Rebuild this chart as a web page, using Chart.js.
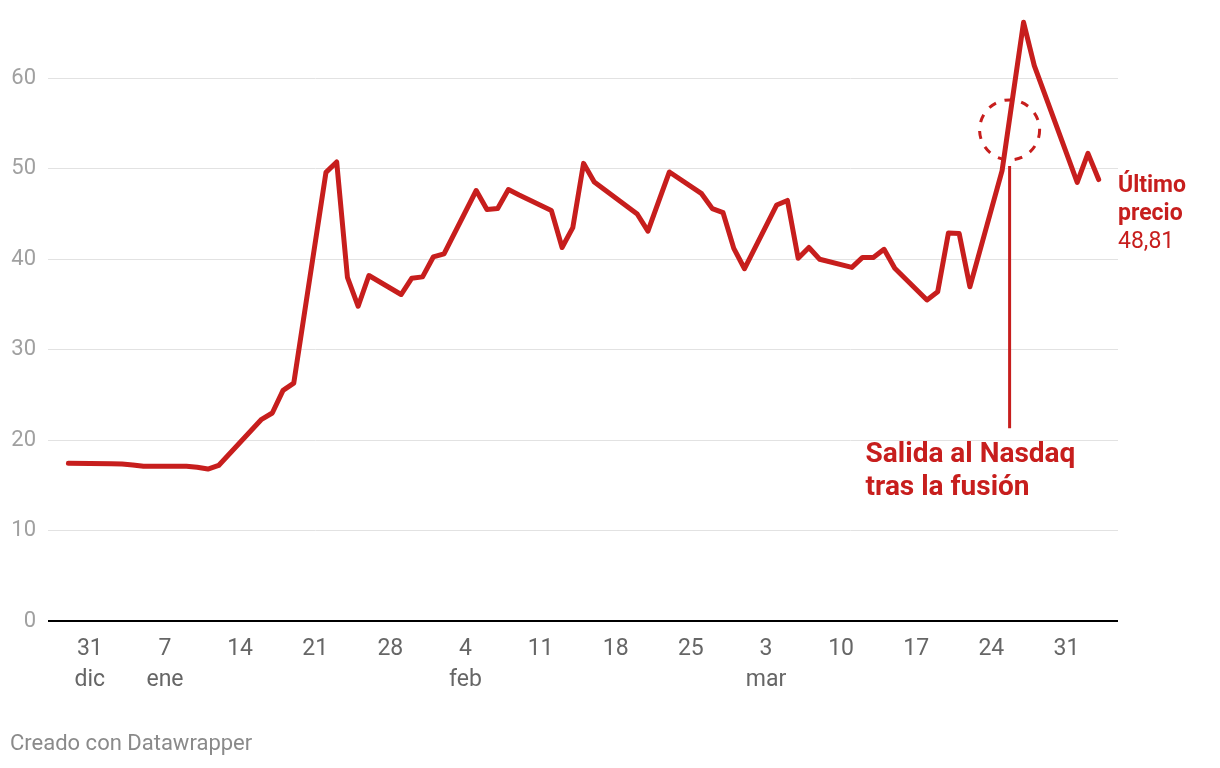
<!DOCTYPE html>
<html>
<head>
<meta charset="utf-8">
<script src="https://cdn.jsdelivr.net/npm/chart.js@4"></script>
<style>
  html, body { margin: 0; padding: 0; background: #fff; }
  #wrap { position: relative; width: 1220px; height: 768px; }
  #credit {
    position: absolute; left: 10px; top: 730px;
    font: 22px Roboto, sans-serif; color: #8a8a8a;
  }
</style>
</head>
<body>
<div id="wrap">
  <canvas id="chart" width="1220" height="768"></canvas>
  <div id="credit">Creado con Datawrapper</div>
</div>
<script>
// Datos (cierre diario)
const dates = [
  '2023-12-29', '2024-01-02', '2024-01-03', '2024-01-04', '2024-01-05',
  '2024-01-08', '2024-01-09', '2024-01-10', '2024-01-11', '2024-01-12',
  '2024-01-16', '2024-01-17', '2024-01-18', '2024-01-19',
  '2024-01-22', '2024-01-23', '2024-01-24', '2024-01-25', '2024-01-26',
  '2024-01-29', '2024-01-30', '2024-01-31', '2024-02-01', '2024-02-02',
  '2024-02-05', '2024-02-06', '2024-02-07', '2024-02-08', '2024-02-09',
  '2024-02-12', '2024-02-13', '2024-02-14', '2024-02-15', '2024-02-16',
  '2024-02-20', '2024-02-21', '2024-02-22', '2024-02-23',
  '2024-02-26', '2024-02-27', '2024-02-28', '2024-02-29', '2024-03-01',
  '2024-03-04', '2024-03-05', '2024-03-06', '2024-03-07', '2024-03-08',
  '2024-03-11', '2024-03-12', '2024-03-13', '2024-03-14', '2024-03-15',
  '2024-03-18', '2024-03-19', '2024-03-20', '2024-03-21', '2024-03-22',
  '2024-03-25', '2024-03-26', '2024-03-27', '2024-03-28',
  '2024-04-01', '2024-04-02', '2024-04-03'
];
const prices = [
  17.43, 17.4, 17.35, 17.25, 17.1,
  17.1, 17.1, 17.0, 16.8, 17.2,
  22.3, 23.0, 25.5, 26.3,
  49.6, 50.75, 38.0, 34.8, 38.2,
  36.1, 37.9, 38.05, 40.25, 40.6,
  47.6, 45.5, 45.6, 47.7, 47.1,
  45.4, 41.3, 43.5, 50.6, 48.55,
  45.0, 43.1, 46.4, 49.65,
  47.25, 45.6, 45.15, 41.2, 38.95,
  46.0, 46.5, 40.1, 41.3, 40.0,
  39.1, 40.2, 40.2, 41.1, 39.0,
  35.5, 36.4, 42.9, 42.85, 36.95,
  49.8, 58.0, 66.2, 61.4,
  48.5, 51.7, 48.81
];

// Marcas del eje X (días desde el 31 dic) y sus etiquetas
const xTickDays = [0, 7, 14, 21, 28, 35, 42, 49, 56, 63, 70, 77, 84, 91];
const xTickLabels = [
  ['31', 'dic'], ['7', 'ene'], '14', '21', '28', ['4', 'feb'], '11',
  '18', '25', ['3', 'mar'], '10', '17', '24', '31'
];
const yTicks = [0, 10, 20, 30, 40, 50, 60];

const lastLabel = ['Último', 'precio', '48,81'];
const noteLines = ['Salida al Nasdaq', 'tras la fusión'];
const noteDay = 85.7;      // posición de la anotación (días)
const noteTop = 50.3;      // extremo superior de la línea vertical
const noteBottom = 21.3;   // extremo inferior de la línea vertical
const circleValue = 54.3;  // centro del círculo punteado

const RED = '#c71e1d';
const FONT = 'Roboto, sans-serif';

// Convertir fecha a días desde el 31 de diciembre de 2023
function toDay(str) {
  const [y, m, d] = str.split('-').map(Number);
  return (Date.UTC(y, m - 1, d) - Date.UTC(2023, 11, 31)) / 86400000;
}

const points = dates.map((d, i) => ({ x: toDay(d), y: prices[i] }));

// Anotaciones dibujadas sobre el lienzo
const annotations = {
  id: 'annotations',
  afterDatasetsDraw(chart) {
    const { ctx, scales: { x, y }, chartArea } = chart;
    ctx.save();

    // línea vertical
    const lx = x.getPixelForValue(noteDay);
    ctx.strokeStyle = RED;
    ctx.lineWidth = 3;
    ctx.beginPath();
    ctx.moveTo(lx, y.getPixelForValue(noteTop));
    ctx.lineTo(lx, y.getPixelForValue(noteBottom));
    ctx.stroke();

    // círculo punteado
    ctx.setLineDash([8, 9]);
    ctx.beginPath();
    ctx.arc(lx, y.getPixelForValue(circleValue), 30, 0, Math.PI * 2);
    ctx.stroke();
    ctx.setLineDash([]);

    // texto de la anotación
    ctx.fillStyle = RED;
    ctx.textBaseline = 'alphabetic';
    ctx.textAlign = 'left';
    ctx.font = 'bold 28px ' + FONT;
    const ty = y.getPixelForValue(noteBottom) + 34;
    noteLines.forEach((t, i) => ctx.fillText(t, lx - 144, ty + i * 33));

    // último precio
    const last = points[points.length - 1];
    const py = y.getPixelForValue(last.y) + 12;
    ctx.font = 'bold 23px ' + FONT;
    ctx.fillText(lastLabel[0], chartArea.right, py);
    ctx.fillText(lastLabel[1], chartArea.right, py + 28);
    ctx.font = '23px ' + FONT;
    ctx.fillText(lastLabel[2], chartArea.right, py + 56);

    ctx.restore();
  }
};

new Chart(document.getElementById('chart'), {
  type: 'line',
  data: {
    datasets: [{
      data: points,
      borderColor: RED,
      borderWidth: 5,
      borderJoinStyle: 'round',
      borderCapStyle: 'round',
      pointRadius: 0,
      tension: 0,
      fill: false,
      clip: 10
    }]
  },
  options: {
    responsive: false,
    animation: false,
    layout: { padding: { top: 6, right: 102, left: 0, bottom: 0 } },
    plugins: { legend: { display: false }, tooltip: { enabled: false } },
    scales: {
      x: {
        type: 'linear',
        min: -3.9,
        max: 95.8,
        afterBuildTicks: scale => { scale.ticks = xTickDays.map(v => ({ value: v })); },
        afterFit: scale => {
          scale.height = 147;
          scale.paddingLeft = 0;
          scale.paddingRight = 0;
        },
        grid: { display: false, drawTicks: false },
        border: { display: false },
        ticks: {
          padding: 13,
          color: '#666',
          font: { family: FONT, size: 23, lineHeight: 1.35 },
          maxRotation: 0,
          autoSkip: false,
          callback: (value, index) => xTickLabels[index]
        }
      },
      y: {
        min: 0,
        max: 68,
        afterBuildTicks: scale => { scale.ticks = yTicks.map(v => ({ value: v })); },
        afterFit: scale => {
          scale.width = 48;
          scale.paddingTop = 0;
          scale.paddingBottom = 0;
        },
        grid: {
          drawTicks: false,
          color: ctx => ctx.tick.value === 0 ? '#000' : '#e2e2e2',
          lineWidth: ctx => ctx.tick.value === 0 ? 2 : 1
        },
        border: { display: false },
        ticks: {
          padding: 12,
          color: '#a0a0a0',
          font: { family: FONT, size: 22 }
        }
      }
    }
  },
  plugins: [annotations]
});
</script>
</body>
</html>
